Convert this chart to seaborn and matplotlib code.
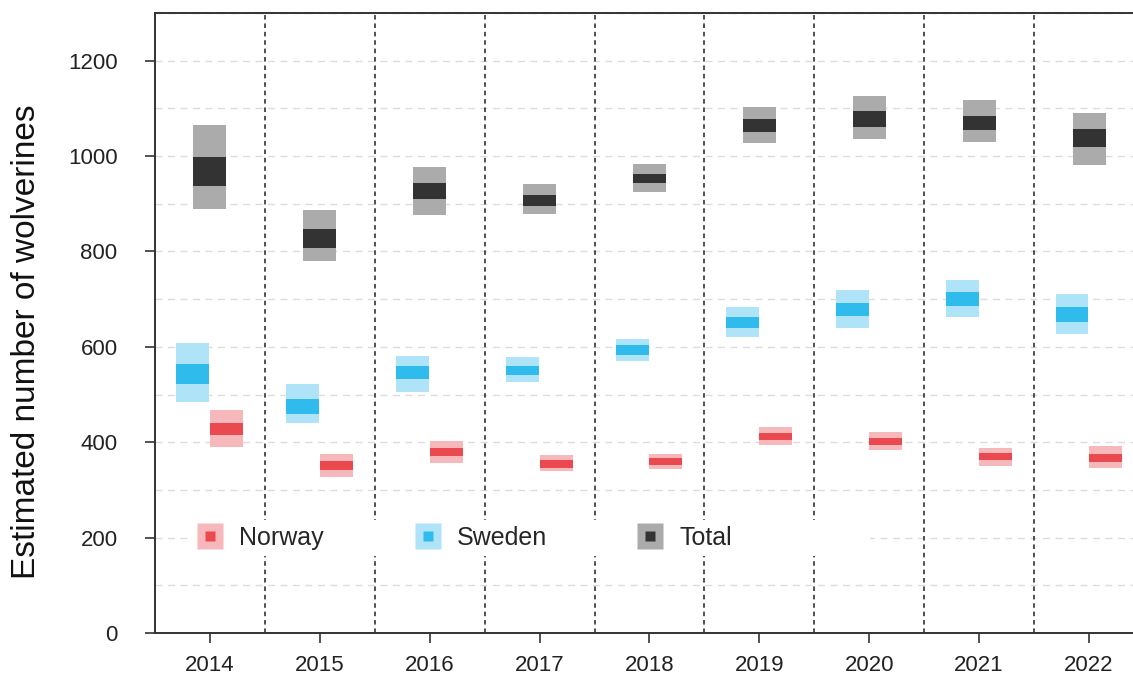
import pandas as pd
import seaborn as sns
import matplotlib.pyplot as plt
from matplotlib.lines import Line2D
from matplotlib.legend_handler import HandlerTuple
from matplotlib.ticker import MultipleLocator

# Estimated wolverine numbers: outer (light) and inner (dark) intervals
years = ["2014", "2015", "2016", "2017", "2018", "2019", "2020", "2021", "2022"]

norway_outer_lo = [390, 327, 357, 339, 344, 394, 384, 351, 347]
norway_outer_hi = [468, 376, 403, 373, 376, 431, 421, 388, 392]
norway_inner_lo = [415, 342, 371, 347, 352, 405, 394, 362, 358]
norway_inner_hi = [441, 361, 388, 362, 366, 420, 409, 377, 376]

sweden_outer_lo = [485, 441, 506, 527, 571, 621, 639, 662, 627]
sweden_outer_hi = [608, 522, 581, 579, 617, 684, 720, 741, 710]
sweden_inner_lo = [522, 460, 533, 541, 583, 640, 664, 686, 653]
sweden_inner_hi = [563, 490, 560, 560, 603, 663, 692, 714, 684]

total_outer_lo = [890, 780, 877, 879, 925, 1028, 1035, 1029, 982]
total_outer_hi = [1066, 887, 977, 942, 984, 1103, 1126, 1117, 1090]
total_inner_lo = [938, 808, 909, 896, 943, 1050, 1062, 1054, 1018]
total_inner_hi = [999, 848, 943, 918, 963, 1078, 1095, 1085, 1056]

series = {
    "Norway": dict(olo=norway_outer_lo, ohi=norway_outer_hi, ilo=norway_inner_lo, ihi=norway_inner_hi,
                   light="#F6B8BA", dark="#E9494F", offset=0.15),
    "Sweden": dict(olo=sweden_outer_lo, ohi=sweden_outer_hi, ilo=sweden_inner_lo, ihi=sweden_inner_hi,
                   light="#AFE3F7", dark="#2FBCEC", offset=-0.155),
    "Total": dict(olo=total_outer_lo, ohi=total_outer_hi, ilo=total_inner_lo, ihi=total_inner_hi,
                  light="#ABABAB", dark="#333333", offset=0.0),
}

sns.set_style("white")
plt.rcParams['font.family'] = ['Liberation Sans', 'DejaVu Sans']

fig = plt.figure(figsize=(11.33, 6.77), dpi=100)
ax = fig.add_axes([155 / 1133, 1 - 633 / 677, 978 / 1133, 620 / 677])

pos = list(range(len(years)))
width = 0.30
for name, s in series.items():
    df = pd.DataFrame({"x": [p + s["offset"] for p in pos],
                       "olo": s["olo"], "ohi": s["ohi"], "ilo": s["ilo"], "ihi": s["ihi"]})
    ax.bar(df["x"], df["ohi"] - df["olo"], bottom=df["olo"], width=width,
           color=s["light"], linewidth=0, zorder=3)
    ax.bar(df["x"], df["ihi"] - df["ilo"], bottom=df["ilo"], width=width,
           color=s["dark"], linewidth=0, zorder=4)

# dotted separators between years
for i in range(len(years) - 1):
    ax.axvline(i + 0.5, color="#222222", lw=1.1, ls=(0, (3, 2.5)), zorder=2)

ax.set_xlim(-0.5, 8.4)
ax.set_ylim(0, 1300)
ax.set_xticks(pos)
ax.set_xticklabels(years)
ax.set_yticks(range(0, 1201, 200))
ax.yaxis.set_minor_locator(MultipleLocator(100))
ax.grid(which="both", axis="y", color="#DCDCDC", lw=1, ls=(0, (5, 4)))
ax.grid(False, axis="x")
ax.set_axisbelow(True)

ax.tick_params(axis="y", which="major", left=True, length=7, width=1.2, color="#333333",
               labelsize=16, pad=20, labelcolor="#222222")
ax.tick_params(axis="y", which="minor", left=False, length=0)
ax.tick_params(axis="x", bottom=True, length=7, width=1.2, color="#333333",
               labelsize=16, pad=9, labelcolor="#222222")

for side in ["left", "top", "bottom"]:
    ax.spines[side].set_color("#333333")
    ax.spines[side].set_linewidth(1.4)
ax.spines["right"].set_visible(False)

ax.set_ylabel("Estimated number of wolverines", fontsize=24, color="#111111")
ax.yaxis.set_label_coords(-0.116, 0.47)

handles = []
labels = []
for name, s in series.items():
    h_out = Line2D([], [], ls="", marker="s", ms=18.7, mfc=s["light"], mec="none")
    h_in = Line2D([], [], ls="", marker="s", ms=7.2, mfc=s["dark"], mec="none")
    handles.append((h_out, h_in))
    labels.append(name)
handles.append(Line2D([], [], ls="", marker=None))
labels.append("")

leg = ax.legend(handles, labels, handler_map={tuple: HandlerTuple(ndivide=1, pad=0)},
                ncol=4, fontsize=18, frameon=True, facecolor="white", edgecolor="none",
                framealpha=1, fancybox=False, handlelength=1.1, handletextpad=0.6,
                columnspacing=3.6, borderpad=0.25, loc="center left",
                bbox_to_anchor=(0.0235, 0.153))
leg.set_zorder(5)

fig.savefig("out.png", dpi=100)
